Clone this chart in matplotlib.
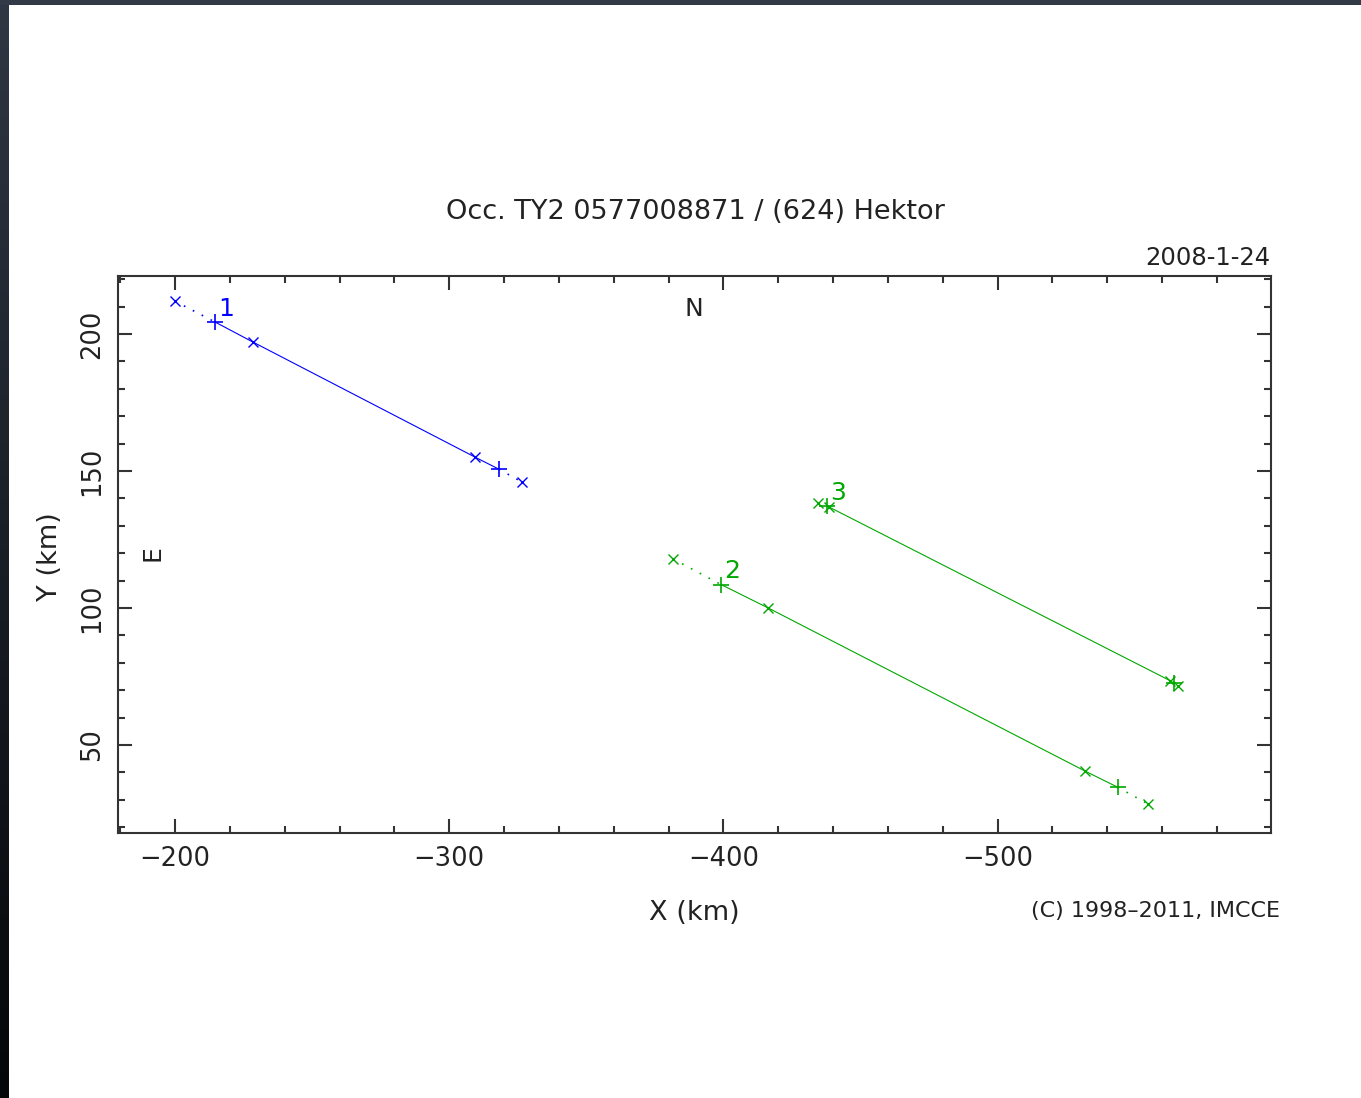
import matplotlib.pyplot as plt
import numpy as np
from matplotlib.ticker import MultipleLocator

# 弦的端点 (km)：外侧x, 起点+, 内侧x, 内侧x, 终点+, 外侧x
chord_ids = ['1', '2', '3']
chord_colors = ['#0000ff', '#00a800', '#00a800']
chord_x = [
    [-200.0, -214.6, -228.4, -309.4, -318.1, -326.5],
    [-381.7, -399.1, -416.2, -531.9, -543.8, -555.0],
    [-434.6, -437.9, -438.5, -562.9, -564.3, -565.8],
]
chord_y = [
    [212.0, 204.4, 197.1, 155.1, 150.7, 146.0],
    [117.9, 108.6, 100.1, 40.5, 34.6, 28.4],
    [138.2, 137.2, 136.9, 73.5, 72.6, 71.7],
]

x_ticks = [-200, -300, -400, -500]
y_ticks = [50, 100, 150, 200]

title = 'Occ. TY2 0577008871 / (624) Hektor'
date_str = '2008-1-24'
credit = '(C) 1998\u20132011, IMCCE'

plt.rcParams['font.family'] = ['DejaVu Sans']
plt.rcParams['axes.unicode_minus'] = True

W, H = 1361, 1098
fig = plt.figure(figsize=(W / 100, H / 100), dpi=100)
fig.patch.set_facecolor('white')

# 窗口边框
bax = fig.add_axes([0, 0, 9 / W, 1])
grad = np.linspace(0, 1, 256).reshape(-1, 1)
c_top = np.array([0x2f, 0x37, 0x44]) / 255
c_bot = np.array([0x05, 0x06, 0x08]) / 255
img = c_top[None, None, :] * (1 - grad[:, :, None]) + c_bot[None, None, :] * grad[:, :, None]
bax.imshow(img, aspect='auto', extent=[0, 1, 0, 1], origin='upper')
bax.axis('off')
tax = fig.add_axes([0, 1 - 5 / H, 1, 5 / H])
tax.set_facecolor('#333a47')
tax.set_xticks([])
tax.set_yticks([])
for s in tax.spines.values():
    s.set_visible(False)

ax = fig.add_axes([118 / W, 1 - 833 / H, (1271 - 118) / W, (833 - 276) / H])
ax.set_xlim(-179.2, -599.7)
ax.set_ylim(17.9, 221.2)

for cid, col, xs, ys in zip(chord_ids, chord_colors, chord_x, chord_y):
    xs = np.array(xs)
    ys = np.array(ys)
    ax.plot(xs[1:5], ys[1:5], '-', color=col, lw=0.8)
    ax.plot(xs[0:2], ys[0:2], color=col, lw=1.2, linestyle=(0, (1, 5)))
    ax.plot(xs[4:6], ys[4:6], color=col, lw=1.2, linestyle=(0, (1, 5)))
    ax.plot(xs[[0, 2, 3, 5]], ys[[0, 2, 3, 5]], 'x', color=col, ms=7, mew=1)
    ax.plot(xs[[1, 4]], ys[[1, 4]], '+', color=col, ms=12, mew=1.2)
    ax.annotate(cid, (xs[1], ys[1]), xytext=(2, 1), textcoords='offset points',
                ha='left', va='bottom', color=col, fontsize=18)

ax.xaxis.set_major_locator(MultipleLocator(100))
ax.xaxis.set_minor_locator(MultipleLocator(20))
ax.yaxis.set_major_locator(MultipleLocator(50))
ax.yaxis.set_minor_locator(MultipleLocator(10))
ax.set_xticks(x_ticks)
ax.set_yticks(y_ticks)
ax.tick_params(which='both', direction='in', top=True, right=True,
               color='#333333', width=1.5, labelsize=18.5, labelcolor='#222222')
ax.tick_params(which='major', length=10)
ax.tick_params(which='minor', length=5)
ax.tick_params(axis='x', pad=9)
ax.tick_params(axis='y', pad=9, labelrotation=90)
for lab in ax.get_yticklabels():
    lab.set_va('center')
for s in ax.spines.values():
    s.set_color('#333333')
    s.set_linewidth(1.5)

tc = '#222222'
fig.text(695 / W, 1 - 212 / H, title, ha='center', va='center', fontsize=19.5, color=tc)
fig.text(1270 / W, 1 - 258 / H, date_str, ha='right', va='center', fontsize=17.5, color=tc)
fig.text(694 / W, 1 - 309 / H, 'N', ha='center', va='center', fontsize=18, color=tc)
fig.text(152 / W, 1 - 553 / H, 'E', ha='center', va='center', fontsize=18, color=tc, rotation=90)
fig.text(694 / W, 1 - 913 / H, 'X (km)', ha='center', va='center', fontsize=19.5, color=tc)
fig.text(50 / W, 1 - 557 / H, 'Y (km)', ha='center', va='center', fontsize=19.5, color=tc, rotation=90)
fig.text(1280 / W, 1 - 911 / H, credit, ha='right', va='center', fontsize=16, color=tc)

fig.savefig('out.png', dpi=100, facecolor='white')
